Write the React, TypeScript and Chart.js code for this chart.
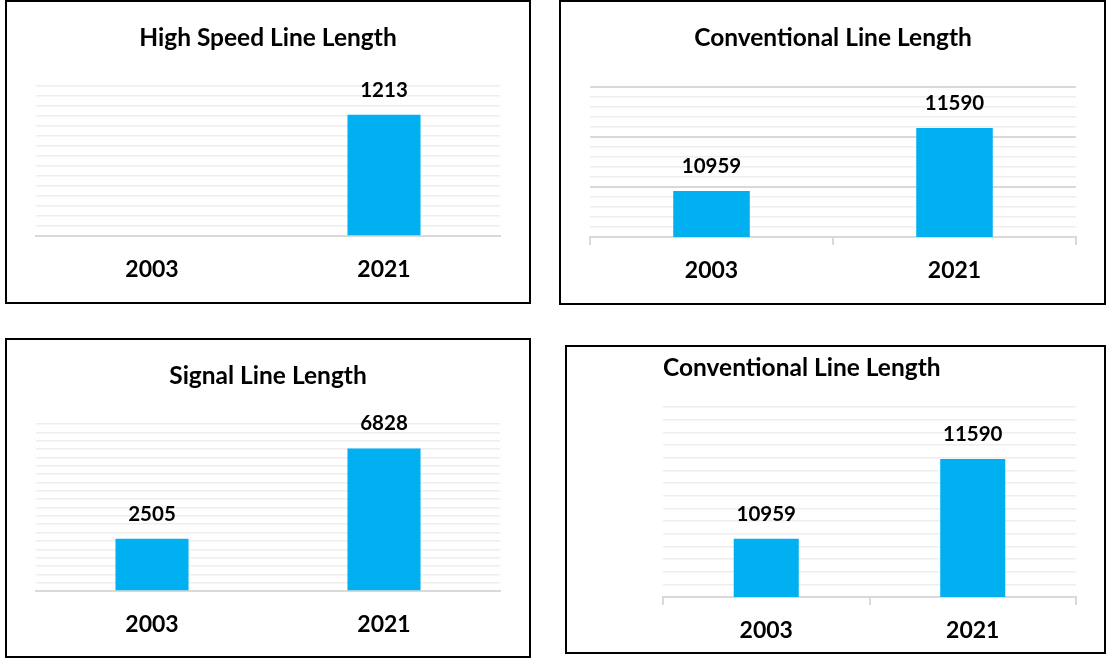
import React, { useEffect, useRef } from "react";
import { Chart, registerables } from "chart.js";

Chart.register(...registerables);

// ---- data ----
const categories = ["2003", "2021"];
const highSpeedValues: (number | null)[] = [null, 1213];
const conventionalValues: number[] = [10959, 11590];
const signalValues: number[] = [2505, 6828];

const highSpeedTitle = "High Speed Line Length";
const conventionalTitle = "Conventional Line Length";
const signalTitle = "Signal Line Length";

// axis ranges
const highSpeedAxis = { min: 0, max: 1500, step: 100, major: 0 };
const conventionalAxis = { min: 10500, max: 12000, step: 100, major: 500 };
const conventionalAxis2 = { min: 10500, max: 12000, step: 100, major: 0 };
const signalAxis = { min: 0, max: 8000, step: 400, major: 0 };

const BAR_COLOR = "#00B0F0";
const FONT = "Lato, 'Noto Sans', sans-serif";

const valueLabels = {
  id: "valueLabels",
  afterDatasetsDraw(chart: any) {
    const ctx = chart.ctx;
    const meta = chart.getDatasetMeta(0);
    const data = chart.data.datasets[0].data;
    ctx.save();
    ctx.font = `bold 20.5px ${FONT}`;
    ctx.fillStyle = "#000";
    ctx.textAlign = "center";
    ctx.textBaseline = "alphabetic";
    meta.data.forEach((el: any, i: number) => {
      const v = data[i];
      if (v == null || !isFinite(el.y)) return;
      ctx.fillText(String(v), el.x, el.y - 18);
    });
    ctx.restore();
  },
};

type PanelProps = {
  box: { left: number; top: number; width: number; height: number };
  title: string;
  titleAlign: "center" | "start";
  values: (number | null)[];
  axis: { min: number; max: number; step: number; major: number };
  area: { left: number; right: number; top: number; bottom: number };
  titleCenterY: number;
  ticks: boolean;
};

function Panel(p: PanelProps) {
  const ref = useRef<HTMLCanvasElement | null>(null);
  const cw = p.box.width - 4;
  const ch = p.box.height - 4;
  useEffect(() => {
    if (!ref.current) return;
    const titleSize = 24.5;
    const titleBox = titleSize * 1.2;
    const titleTop = p.titleCenterY - titleBox / 2;
    const titleBottom = p.area.top - titleTop - titleBox;
    const xHeight = ch - p.area.bottom;
    const chart = new Chart(ref.current, {
      type: "bar",
      data: {
        labels: categories,
        datasets: [
          {
            data: p.values as any,
            backgroundColor: BAR_COLOR,
            borderWidth: 0,
            categoryPercentage: 1,
            barPercentage: 0.315,
          },
        ],
      },
      options: {
        responsive: false,
        animation: false,
        devicePixelRatio: 1,
        layout: {
          padding: { left: p.area.left, right: cw - p.area.right, top: 0, bottom: 0 },
        },
        plugins: {
          legend: { display: false },
          tooltip: { enabled: false },
          title: {
            display: true,
            text: p.title,
            align: p.titleAlign,
            color: "#000",
            font: { family: FONT, size: titleSize, weight: "bold", lineHeight: 1.2 },
            padding: { top: titleTop, bottom: titleBottom },
          },
        },
        scales: {
          x: {
            offset: true,
            grid: {
              display: p.ticks,
              drawOnChartArea: false,
              drawTicks: p.ticks,
              tickLength: 8,
              color: "#d9d9d9",
              lineWidth: 2,
              offset: true,
            },
            border: { display: true, color: "#d9d9d9", width: 2 },
            ticks: {
              color: "#000",
              font: { family: FONT, size: 23, weight: "bold" },
              padding: p.ticks ? 12 : 20,
              maxRotation: 0,
            },
            afterFit: (s: any) => {
              s.height = xHeight;
            },
          },
          y: {
            min: p.axis.min,
            max: p.axis.max,
            ticks: { display: false, stepSize: p.axis.step },
            border: { display: false },
            grid: {
              drawTicks: false,
              lineWidth: (c: any) =>
                p.axis.major && c.tick && c.tick.value % p.axis.major === 0 ? 2 : 1.5,
              color: (c: any) =>
                p.axis.major && c.tick && c.tick.value % p.axis.major === 0
                  ? "#d9d9d9"
                  : "#eeeeee",
            },
            afterFit: (s: any) => {
              s.width = 0;
            },
          },
        },
      },
      plugins: [valueLabels],
    });
    return () => chart.destroy();
  }, []);
  return (
    <div
      style={{
        position: "absolute",
        left: p.box.left,
        top: p.box.top,
        width: p.box.width,
        height: p.box.height,
        border: "2px solid #000",
        boxSizing: "border-box",
        background: "#fff",
      }}
    >
      <canvas ref={ref} width={cw} height={ch} style={{ display: "block", width: cw, height: ch }} />
    </div>
  );
}

export default function App() {
  return (
    <div
      style={{
        position: "absolute",
        left: 0,
        top: 0,
        width: 1110,
        height: 658,
        overflow: "hidden",
        background: "#fff",
      }}
    >
      <Panel
        box={{ left: 5, top: 0, width: 526, height: 304 }}
        title={highSpeedTitle}
        titleAlign="center"
        values={highSpeedValues}
        axis={highSpeedAxis}
        area={{ left: 29, right: 493, top: 84, bottom: 234 }}
        titleCenterY={36}
        ticks={false}
      />
      <Panel
        box={{ left: 559, top: 0, width: 547, height: 305 }}
        title={conventionalTitle}
        titleAlign="center"
        values={conventionalValues}
        axis={conventionalAxis}
        area={{ left: 29, right: 515, top: 85, bottom: 235 }}
        titleCenterY={36}
        ticks={true}
      />
      <Panel
        box={{ left: 5, top: 338, width: 526, height: 320 }}
        title={signalTitle}
        titleAlign="center"
        values={signalValues}
        axis={signalAxis}
        area={{ left: 29, right: 493, top: 84, bottom: 251 }}
        titleCenterY={36}
        ticks={false}
      />
      <Panel
        box={{ left: 565, top: 345, width: 541, height: 309 }}
        title={conventionalTitle}
        titleAlign="start"
        values={conventionalValues}
        axis={conventionalAxis2}
        area={{ left: 96, right: 509, top: 60, bottom: 250 }}
        titleCenterY={21}
        ticks={true}
      />
    </div>
  );
}
